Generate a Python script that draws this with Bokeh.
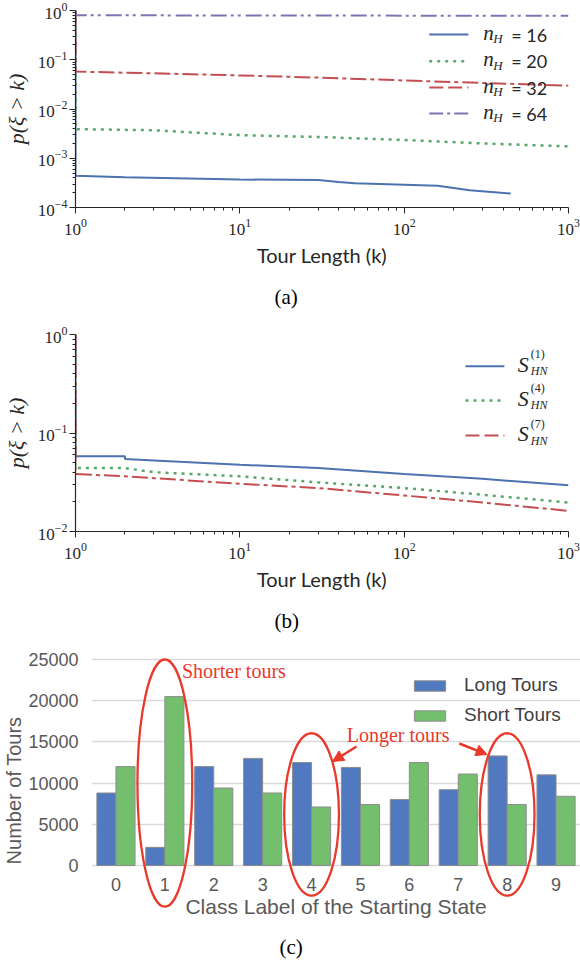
import numpy as np
from bokeh.plotting import figure
from bokeh.models import (Range1d, FixedTicker, Title, Arrow, NormalHead, Legend,
                          LegendItem, ColumnDataSource)
from bokeh.transform import dodge
from bokeh.core.properties import value
from bokeh.embed import file_html
from bokeh.resources import INLINE

# ---------------- data: panel (a) ----------------
k_nh16 = [1, 1, 2, 10, 30, 40, 50, 100, 160, 250, 445]
p_nh16 = [1.0, 4.4e-4, 4.1e-4, 3.7e-4, 3.6e-4, 3.3e-4, 3.1e-4, 2.9e-4, 2.75e-4, 2.25e-4, 1.93e-4]
k_nh20 = [1, 1, 3, 10, 30, 100, 300, 1000]
p_nh20 = [1.0, 3.9e-3, 3.7e-3, 2.95e-3, 2.7e-3, 2.35e-3, 2.0e-3, 1.74e-3]
k_nh32 = [1, 1, 3, 10, 30, 100, 1000]
p_nh32 = [1.0, 0.0575, 0.053, 0.048, 0.0434, 0.038, 0.0298]
k_nh64 = [1, 1, 30, 1000]
p_nh64 = [1.0, 0.80, 0.79, 0.78]
legend_a = ["16", "20", "32", "64"]

# ---------------- data: panel (b) ----------------
k_s1 = [1, 1, 2, 2, 3, 10, 30, 100, 300, 1000]
p_s1 = [1.0, 0.058, 0.058, 0.0543, 0.0527, 0.0476, 0.044, 0.0383, 0.0343, 0.0294]
k_s4 = [1, 1, 2, 3, 10, 30, 100, 300, 1000]
p_s4 = [1.0, 0.044, 0.044, 0.040, 0.0363, 0.0315, 0.0276, 0.0236, 0.0197]
k_s7 = [1, 1, 2, 3, 10, 30, 100, 300, 1000]
p_s7 = [1.0, 0.0383, 0.0363, 0.0348, 0.0305, 0.0276, 0.0232, 0.0197, 0.0162]
legend_b = ["(1)", "(4)", "(7)"]

# ---------------- data: panel (c) ----------------
classes = [0, 1, 2, 3, 4, 5, 6, 7, 8, 9]
long_tours = [8800, 2200, 12000, 13000, 12500, 11900, 8000, 9200, 13300, 11000]
short_tours = [12000, 20500, 9400, 8800, 7100, 7400, 12500, 11100, 7400, 8400]
y_ticks_c = [0, 5000, 10000, 15000, 20000, 25000]
highlight_classes = [1, 4, 8]
highlight_center = [10000, 6200, 6200]
highlight_span = [30000, 19700, 19700]

BLUE, GREEN, RED, PURPLE = "#4C72B0", "#55A868", "#C44E52", "#8172B2"
DARK = "#262626"
ANN_RED = "#E8392B"


def decade_ticks(lo, hi):
    major = [10.0 ** e for e in range(lo, hi + 1)]
    minor = [m * 10.0 ** e for e in range(lo, hi) for m in range(2, 10)]
    return FixedTicker(ticks=major, minor_ticks=minor)


def log_fig(height, ymin_exp, top, bottom, caption, cap_standoff):
    p = figure(width=580, height=height, x_axis_type="log", y_axis_type="log",
               x_range=Range1d(1, 1000), y_range=Range1d(10.0 ** ymin_exp, 1),
               output_backend="svg", toolbar_location=None,
               min_border_left=75, min_border_right=12,
               min_border_top=top, min_border_bottom=bottom)
    p.grid.visible = False
    p.outline_line_color = None
    p.background_fill_color = "white"
    p.xaxis.ticker = decade_ticks(0, 3)
    p.yaxis.ticker = decade_ticks(ymin_exp, 0)
    for ax in (p.xaxis[0], p.yaxis[0]):
        ax.axis_line_color = DARK
        ax.axis_line_width = 1.2
        ax.major_tick_line_color = DARK
        ax.minor_tick_line_color = DARK
        ax.major_tick_out = 6
        ax.major_tick_in = 0
        ax.minor_tick_out = 3
        ax.minor_tick_in = 0
        ax.major_label_text_font = "Liberation Serif"
        ax.major_label_text_font_size = "17px"
        ax.major_label_text_color = DARK
    p.xaxis.major_label_standoff = 5
    p.yaxis.major_label_standoff = 2
    p.xaxis.axis_label = "Tour Length (k)"
    p.xaxis.axis_label_text_font = "Lato"
    p.xaxis.axis_label_text_font_style = "normal"
    p.xaxis.axis_label_text_font_size = "20px"
    p.xaxis.axis_label_text_color = DARK
    p.xaxis.axis_label_standoff = 5
    p.yaxis.axis_label = "p(ξ > k)"
    p.yaxis.axis_label_text_font = "Liberation Serif"
    p.yaxis.axis_label_text_font_style = "italic"
    p.yaxis.axis_label_text_font_size = "22px"
    p.yaxis.axis_label_text_color = DARK
    p.yaxis.axis_label_standoff = 6
    t = Title(text=caption, align="left", offset=199, standoff=cap_standoff,
              text_font="Liberation Serif", text_font_size="21px",
              text_font_style="normal", text_color="black")
    p.add_layout(t, "below")
    return p


def lx(f):
    # frame fraction -> data x on the 1..1000 log axis
    return 10 ** (3 * f)


# ================= panel (a) =================
pa = log_fig(323, -4, 10, 116, "(a)", 26)
pa.line(k_nh16, p_nh16, line_color=BLUE, line_width=2)
pa.line(k_nh20, p_nh20, line_color=GREEN, line_width=2.5, line_dash="3 5")
pa.line(k_nh32, p_nh32, line_color=RED, line_width=2, line_dash="16 4 4 4")
pa.line(k_nh64, p_nh64, line_color=PURPLE, line_width=2, line_dash="16 4 3 4 3 5")


def ya(f):
    return 10 ** (-4 * f)


rows_a = [0.122, 0.257, 0.391, 0.523]
styles_a = [(BLUE, None, 2), (GREEN, "3 5", 2.5), (RED, "14 5", 2), (PURPLE, "14 4 3 4", 2)]
for r, (c, d, w), lab in zip(rows_a, styles_a, legend_a):
    kw = dict(line_color=c, line_width=w)
    if d:
        kw["line_dash"] = d
    pa.line([lx(0.7175), lx(0.797)], [ya(r), ya(r)], **kw)
    pa.text([lx(0.827)], [ya(r)], text=["n"], text_font=value("Liberation Serif"),
            text_font_style="italic", text_font_size="21px", text_color=DARK,
            text_baseline="middle", text_align="left", y_offset=-2)
    pa.text([lx(0.827)], [ya(r)], text=["H"], text_font=value("Liberation Serif"),
            text_font_style="italic", text_font_size="13px", text_color=DARK,
            text_baseline="middle", text_align="left", x_offset=10, y_offset=4)
    pa.text([lx(0.827)], [ya(r)], text=["= " + lab], text_font=value("Lato"),
            text_font_size="18px", text_color=DARK,
            text_baseline="middle", text_align="left", x_offset=28)

# ================= panel (b) =================
pb = log_fig(325, -2, 11, 117, "(b)", 27)
pb.line(k_s1, p_s1, line_color=BLUE, line_width=2)
pb.line(k_s4, p_s4, line_color=GREEN, line_width=2.5, line_dash="3 5")
pb.line(k_s7, p_s7, line_color=RED, line_width=2, line_dash="16 4 4 4")


def yb(f):
    return 10 ** (-2 * f)


rows_b = [0.161, 0.335, 0.513]
styles_b = [(BLUE, None, 2), (GREEN, "3 5", 2.5), (RED, "14 5", 2)]
for r, (c, d, w), lab in zip(rows_b, styles_b, legend_b):
    kw = dict(line_color=c, line_width=w)
    if d:
        kw["line_dash"] = d
    pb.line([lx(0.791), lx(0.870)], [yb(r), yb(r)], **kw)
    pb.text([lx(0.897)], [yb(r)], text=["S"], text_font=value("Liberation Serif"),
            text_font_style="italic", text_font_size="22px", text_color=DARK,
            text_baseline="middle", text_align="left", y_offset=-2)
    pb.text([lx(0.897)], [yb(r)], text=[lab], text_font=value("Liberation Serif"),
            text_font_size="12px", text_color=DARK,
            text_baseline="middle", text_align="left", x_offset=13, y_offset=-12)
    pb.text([lx(0.897)], [yb(r)], text=["HN"], text_font=value("Liberation Serif"),
            text_font_style="italic", text_font_size="12px", text_color=DARK,
            text_baseline="middle", text_align="left", x_offset=13, y_offset=5)

# ================= panel (c) =================
GRAY_TXT = "#595959"
src = ColumnDataSource(dict(cls=classes, long=long_tours, short=short_tours))
pc = figure(width=580, height=316, x_range=Range1d(-0.5, 9.5),
            y_range=Range1d(-7524, 25728), output_backend="svg",
            toolbar_location=None, min_border_left=86, min_border_right=0,
            min_border_top=5, min_border_bottom=37)
pc.outline_line_color = None
pc.xgrid.visible = False
pc.ygrid.ticker = FixedTicker(ticks=y_ticks_c)
pc.ygrid.grid_line_color = "#d9d9d9"
pc.ygrid.grid_line_width = 1.6

r_long = pc.vbar(x=dodge("cls", -0.195), top="long", width=0.39, source=src,
                 fill_color="#5179C0", line_color="#8c8c8c", line_width=1)
r_short = pc.vbar(x=dodge("cls", 0.195), top="short", width=0.39, source=src,
                  fill_color="#74BF6E", line_color="#8c8c8c", line_width=1)

pc.xaxis.fixed_location = 0
pc.xaxis.ticker = FixedTicker(ticks=classes)
pc.xaxis.axis_line_color = None
pc.xaxis.major_tick_line_color = None
pc.xaxis.minor_tick_line_color = None
pc.xaxis.major_label_text_font = "Liberation Sans"
pc.xaxis.major_label_text_font_size = "18px"
pc.xaxis.major_label_text_color = GRAY_TXT
pc.xaxis.major_label_standoff = 6
pc.xaxis.axis_label = "Class Label of the Starting State"
pc.xaxis.axis_label_text_font = "Liberation Sans"
pc.xaxis.axis_label_text_font_style = "normal"
pc.xaxis.axis_label_text_font_size = "21px"
pc.xaxis.axis_label_text_color = GRAY_TXT
pc.xaxis.axis_label_standoff = 1

pc.yaxis.ticker = FixedTicker(ticks=y_ticks_c)
pc.yaxis.axis_line_color = None
pc.yaxis.major_tick_line_color = None
pc.yaxis.minor_tick_line_color = None
pc.yaxis.major_label_text_font = "Liberation Sans"
pc.yaxis.major_label_text_font_size = "18px"
pc.yaxis.major_label_text_color = GRAY_TXT
pc.yaxis.major_label_standoff = 7
pc.yaxis.axis_label = "Number of Tours"
pc.yaxis.axis_label_text_font = "Liberation Sans"
pc.yaxis.axis_label_text_font_style = "normal"
pc.yaxis.axis_label_text_font_size = "20px"
pc.yaxis.axis_label_text_color = GRAY_TXT
pc.yaxis.axis_label_standoff = 0

leg = Legend(items=[LegendItem(label="Long Tours", renderers=[r_long]),
                    LegendItem(label="Short Tours", renderers=[r_short])],
             location=(319, 201), margin=0, padding=4, spacing=8,
             glyph_width=39, glyph_height=13, label_standoff=15, label_height=20,
             label_text_font="Liberation Sans", label_text_font_size="19px",
             label_text_color="#404040", background_fill_alpha=0,
             border_line_color=None)
pc.add_layout(leg)

pc.ellipse(x=highlight_classes, y=highlight_center, width=1.12, height=highlight_span,
           fill_color=None, line_color=ANN_RED, line_width=2.3)
pc.text(x=[1.35], y=[23544], text=["Shorter tours"], text_font=value("Liberation Serif"),
        text_font_size="20px", text_color=ANN_RED, text_baseline="middle", text_align="left")
pc.text(x=[4.72], y=[15898], text=["Longer tours"], text_font=value("Liberation Serif"),
        text_font_size="20px", text_color=ANN_RED, text_baseline="middle", text_align="left")
pc.add_layout(Arrow(x_start=4.92, y_start=14442, x_end=4.43, y_end=12621,
                    line_color=ANN_RED, line_width=2.5,
                    end=NormalHead(size=11, fill_color=ANN_RED, line_color=ANN_RED)))
pc.add_layout(Arrow(x_start=7.02, y_start=14806, x_end=7.59, y_end=13471,
                    line_color=ANN_RED, line_width=2.5,
                    end=NormalHead(size=11, fill_color=ANN_RED, line_color=ANN_RED)))

tc = Title(text="(c)", align="left", offset=188, standoff=11,
           text_font="Liberation Serif", text_font_size="21px",
           text_font_style="normal", text_color="black")
pc.add_layout(tc, "below")

open("out.html", "w").write(file_html([pa, pb, pc], INLINE))
